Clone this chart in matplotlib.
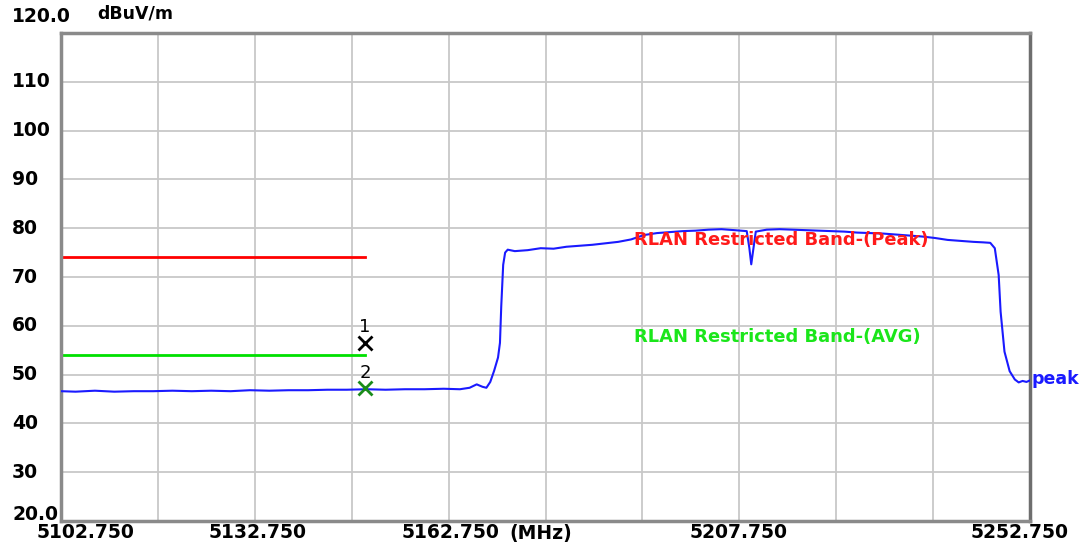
import numpy as np
import matplotlib
matplotlib.use("Agg")
import matplotlib.pyplot as plt
import matplotlib.transforms as mtransforms

# Spectrum trace (MHz, dBuV/m)
freqs = [5102.75, 5105, 5108, 5111, 5114, 5117, 5120, 5123, 5126, 5129,
         5132, 5135, 5138, 5141, 5144, 5147, 5150, 5153, 5156, 5159,
         5162, 5164.5, 5166, 5167.1, 5168.0, 5168.6, 5169.2, 5169.8, 5170.4, 5170.7,
         5170.9, 5171.2, 5171.5, 5171.9, 5173, 5175, 5177, 5179, 5181, 5183,
         5185, 5187, 5189, 5191, 5193, 5195, 5197, 5199, 5201, 5203,
         5205, 5207, 5208.9, 5209.3, 5209.6, 5209.9, 5210.3, 5212, 5214, 5216,
         5218, 5220, 5222, 5224, 5226, 5228, 5230, 5232, 5234, 5236,
         5238, 5240, 5242, 5244, 5245.5, 5246.6, 5247.3, 5247.9, 5248.2, 5248.8,
         5249.6, 5250.4, 5251.0, 5251.6, 5252.2, 5252.75]
levels = [46.6, 46.5, 46.7, 46.5, 46.6, 46.6, 46.7, 46.6, 46.7, 46.6,
          46.8, 46.7, 46.8, 46.8, 46.9, 46.9, 47.0, 46.9, 47.0, 47.0,
          47.1, 47.0, 47.3, 48.0, 47.5, 47.3, 48.5, 50.8, 53.5, 56.5,
          64.0, 72.5, 75.0, 75.6, 75.3, 75.5, 75.9, 75.8, 76.2, 76.4,
          76.6, 76.9, 77.2, 77.7, 78.6, 79.0, 79.2, 79.4, 79.5, 79.7,
          79.8, 79.6, 79.4, 76.0, 72.6, 75.5, 79.3, 79.7, 79.8, 79.7,
          79.6, 79.5, 79.4, 79.3, 79.1, 79.0, 78.9, 78.7, 78.5, 78.3,
          78.0, 77.6, 77.4, 77.2, 77.1, 77.0, 75.9, 70.4, 62.9, 54.7,
          50.7, 49.0, 48.4, 48.7, 48.5, 48.8]

# Restricted band limits
limit_stop = 5149.8
peak_limit = 74.0
avg_limit = 54.0

# Markers
marker_freq = [5149.8, 5149.8]
marker_level = [56.5, 47.2]
marker_color = ["black", "#1a8c1a"]
marker_name = ["1", "2"]

x_min, x_max = 5102.75, 5252.75
y_min, y_max = 20.0, 120.0
y_tick_vals = [110, 100, 90, 80, 70, 60, 50, 40, 30]
x_label_vals = [5102.75, 5132.75, 5162.75, 5207.75, 5252.75]

fig = plt.figure(figsize=(10.86, 5.46), dpi=100)
ax = fig.add_axes([61 / 1086, 1 - 521 / 546, 969 / 1086, 488 / 546])
ax.set_xlim(x_min, x_max)
ax.set_ylim(y_min, y_max)

# grid: 10 divisions each way
ax.set_xticks(np.linspace(x_min, x_max, 11))
ax.set_yticks(np.arange(20, 121, 10))
ax.grid(True, color="#c8c8c8", linewidth=1.3)
ax.tick_params(length=0, labelbottom=False, labelleft=False)
for s in ax.spines.values():
    s.set_color("#8a8a8a")
    s.set_linewidth(2.5)
ax.spines["right"].set_color("#6e6e6e")

ax.plot(freqs, levels, color="#1a1aff", linewidth=1.5, zorder=3)
ax.plot([x_min, limit_stop], [peak_limit, peak_limit], color="#ff0000", linewidth=2)
ax.plot([x_min, limit_stop], [avg_limit, avg_limit], color="#00e000", linewidth=2)

for f, lv, c, n in zip(marker_freq, marker_level, marker_color, marker_name):
    ax.plot(f, lv, marker="x", color=c, markersize=10, markeredgewidth=2, zorder=4)
    ax.text(f, lv + 3.2, n, color="black", fontsize=13, ha="center", va="center")

bold = dict(fontweight="bold", fontfamily="DejaVu Sans")
ax.text(5191.4, 77.6, "RLAN Restricted Band-(Peak)", color="#ff1a1a", fontsize=12.9,
        va="center", ha="left", **bold)
ax.text(5191.4, 57.8, "RLAN Restricted Band-(AVG)", color="#1ae61a", fontsize=12.9,
        va="center", ha="left", **bold)
ax.text(x_max + 0.2, levels[-1] + 0.3, "peak", color="#1a1aff", fontsize=12.5,
        va="center", ha="left", clip_on=False, **bold)

# y labels, left aligned at the figure edge
ytr = mtransforms.blended_transform_factory(fig.transFigure, ax.transData)
lab = dict(fontsize=13.5, fontweight="bold", fontfamily="DejaVu Sans", color="black")
for v in y_tick_vals:
    ax.text(12 / 1086, v, str(v), transform=ytr, ha="left", va="center", **lab)
ax.text(12 / 1086, 1 - 16 / 546, "120.0", transform=fig.transFigure, ha="left",
        va="center", **lab)
ax.text(12 / 1086, 1 - 515 / 546, "20.0", transform=fig.transFigure, ha="left",
        va="center", **lab)
ax.text(97 / 1086, 1 - 14 / 546, "dBuV/m", transform=fig.transFigure, ha="left",
        va="center", fontsize=12.5, fontweight="bold", fontfamily="DejaVu Sans")

# x labels
xtr = mtransforms.blended_transform_factory(ax.transData, fig.transFigure)
xl = dict(fontsize=13.5, fontweight="bold",
          fontfamily=["Liberation Sans Narrow", "DejaVu Sans"], color="black")
shifts = [24, 3, 2, -1, -10]
for v, sh in zip(x_label_vals, shifts):
    off = mtransforms.offset_copy(xtr, fig=fig, x=sh, units="dots")
    ax.text(v, 1 - 533 / 546, "%.3f" % v, transform=off, ha="center", va="center",
            clip_on=False, **xl)
ax.text(541 / 1086, 1 - 533 / 546, "(MHz)", transform=fig.transFigure, ha="center",
        va="center", **xl)

fig.savefig("out.png", dpi=100)
